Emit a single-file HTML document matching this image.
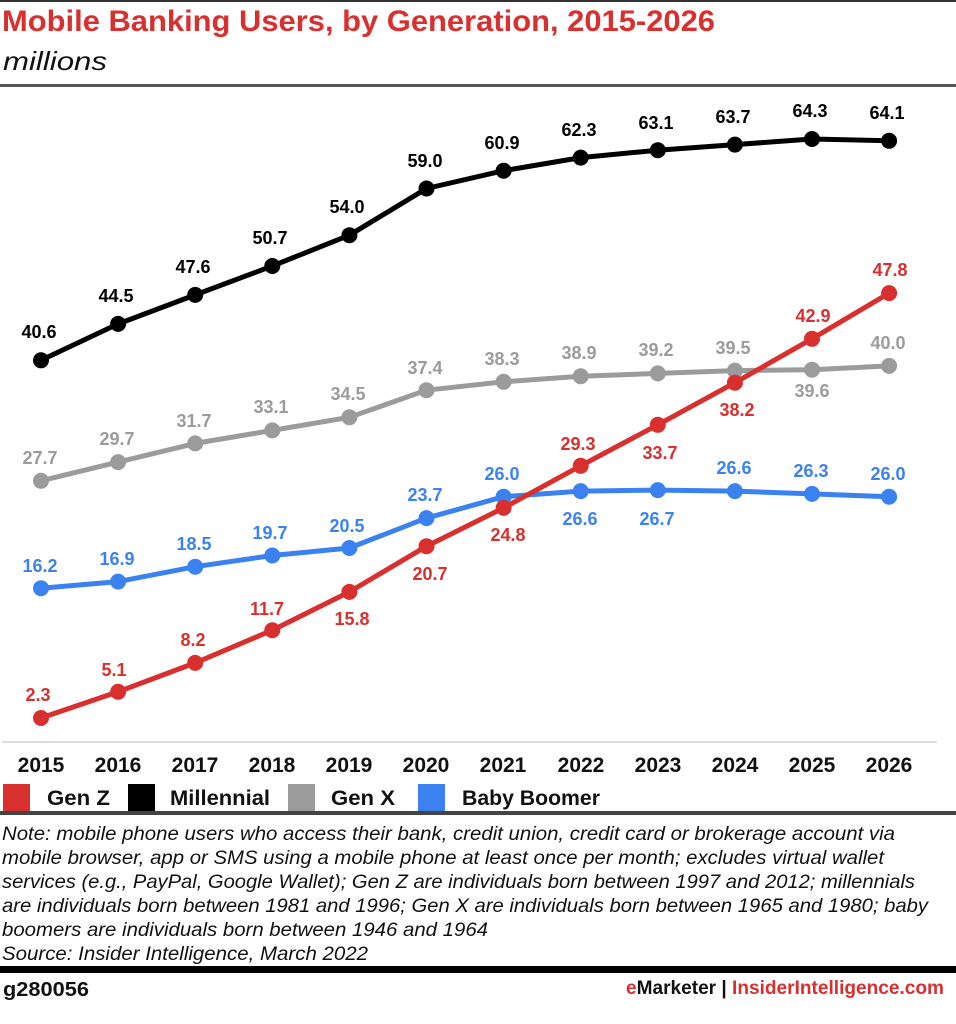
<!DOCTYPE html>
<html><head><meta charset="utf-8"><style>
body{margin:0;background:#fff;}
svg{display:block;}
text{font-family:"Liberation Sans",sans-serif;}
.n{font-family:"Liberation Sans Narrow","Liberation Sans",sans-serif;}
.l{font-size:18px;font-weight:bold;text-anchor:middle;}
</style></head><body>
<svg width="956" height="1024" viewBox="0 0 956 1024" xmlns="http://www.w3.org/2000/svg">
<rect x="0" y="0" width="956" height="2" fill="#333"/>
<text x="2" y="31" class="n" font-size="30" font-weight="bold" fill="#d8302f" textLength="713" lengthAdjust="spacingAndGlyphs">Mobile Banking Users, by Generation, 2015-2026</text>
<text x="3" y="70" class="n" font-size="26" font-style="italic" fill="#111" textLength="104" lengthAdjust="spacingAndGlyphs">millions</text>
<rect x="0" y="84" width="956" height="3" fill="#555"/>
<line x1="2" y1="742" x2="937" y2="742" stroke="#ddd" stroke-width="2"/>
<g fill="none" stroke-width="5" stroke-linejoin="round">
<polyline stroke="#000" points="41,360.3 118.1,323.9 195.2,294.9 272.3,266 349.4,235.2 426.5,188.5 503.6,170.7 580.7,157.6 657.8,150.2 734.9,144.6 812,139 889.1,140.8"/>
<polyline stroke="#9b9b9b" points="41,480.8 118.1,462.1 195.2,443.4 272.3,430.4 349.4,417.3 426.5,390.2 503.6,381.8 580.7,376.2 657.8,373.4 734.9,370.6 812,369.7 889.1,365.9"/>
<polyline stroke="#3b82f0" points="41,588.2 118.1,581.6 195.2,566.7 272.3,555.5 349.4,548 426.5,518.1 503.6,496.7 580.7,491.1 657.8,490.1 734.9,491.1 812,493.9 889.1,496.7"/>
<polyline stroke="#d8302f" points="41,718 118.1,691.8 195.2,662.9 272.3,630.2 349.4,591.9 426.5,546.2 503.6,507.9 580.7,465.8 657.8,424.8 734.9,382.7 812,338.8 889.1,293.1"/>
</g>
<g fill="#000">
<circle cx="41" cy="360.3" r="8"/><circle cx="118.1" cy="323.9" r="8"/><circle cx="195.2" cy="294.9" r="8"/><circle cx="272.3" cy="266" r="8"/><circle cx="349.4" cy="235.2" r="8"/><circle cx="426.5" cy="188.5" r="8"/><circle cx="503.6" cy="170.7" r="8"/><circle cx="580.7" cy="157.6" r="8"/><circle cx="657.8" cy="150.2" r="8"/><circle cx="734.9" cy="144.6" r="8"/><circle cx="812" cy="139" r="8"/><circle cx="889.1" cy="140.8" r="8"/>
</g>
<g fill="#9b9b9b">
<circle cx="41" cy="480.8" r="8"/><circle cx="118.1" cy="462.1" r="8"/><circle cx="195.2" cy="443.4" r="8"/><circle cx="272.3" cy="430.4" r="8"/><circle cx="349.4" cy="417.3" r="8"/><circle cx="426.5" cy="390.2" r="8"/><circle cx="503.6" cy="381.8" r="8"/><circle cx="580.7" cy="376.2" r="8"/><circle cx="657.8" cy="373.4" r="8"/><circle cx="734.9" cy="370.6" r="8"/><circle cx="812" cy="369.7" r="8"/><circle cx="889.1" cy="365.9" r="8"/>
</g>
<g fill="#3b82f0">
<circle cx="41" cy="588.2" r="8"/><circle cx="118.1" cy="581.6" r="8"/><circle cx="195.2" cy="566.7" r="8"/><circle cx="272.3" cy="555.5" r="8"/><circle cx="349.4" cy="548" r="8"/><circle cx="426.5" cy="518.1" r="8"/><circle cx="503.6" cy="496.7" r="8"/><circle cx="580.7" cy="491.1" r="8"/><circle cx="657.8" cy="490.1" r="8"/><circle cx="734.9" cy="491.1" r="8"/><circle cx="812" cy="493.9" r="8"/><circle cx="889.1" cy="496.7" r="8"/>
</g>
<g fill="#d8302f">
<circle cx="41" cy="718" r="8"/><circle cx="118.1" cy="691.8" r="8"/><circle cx="195.2" cy="662.9" r="8"/><circle cx="272.3" cy="630.2" r="8"/><circle cx="349.4" cy="591.9" r="8"/><circle cx="426.5" cy="546.2" r="8"/><circle cx="503.6" cy="507.9" r="8"/><circle cx="580.7" cy="465.8" r="8"/><circle cx="657.8" cy="424.8" r="8"/><circle cx="734.9" cy="382.7" r="8"/><circle cx="812" cy="338.8" r="8"/><circle cx="889.1" cy="293.1" r="8"/>
</g>
<g class="l" fill="#000">
<text x="39" y="338">40.6</text><text x="116" y="302">44.5</text><text x="193" y="273">47.6</text><text x="270" y="244">50.7</text><text x="347" y="213">54.0</text><text x="425" y="167">59.0</text><text x="502" y="149">60.9</text><text x="579" y="136">62.3</text><text x="656" y="129">63.1</text><text x="733" y="123">63.7</text><text x="810" y="117">64.3</text><text x="887" y="119">64.1</text>
</g>
<g class="l" fill="#9b9b9b">
<text x="40" y="464">27.7</text><text x="117" y="445">29.7</text><text x="194" y="427">31.7</text><text x="271" y="413">33.1</text><text x="348" y="400">34.5</text><text x="425" y="374">37.4</text><text x="502" y="365">38.3</text><text x="579" y="359">38.9</text><text x="656" y="356">39.2</text><text x="733" y="354">39.5</text><text x="812" y="397">39.6</text><text x="888" y="349">40.0</text>
</g>
<g class="l" fill="#3b82f0">
<text x="40" y="572">16.2</text><text x="117" y="565">16.9</text><text x="194" y="550">18.5</text><text x="270" y="539">19.7</text><text x="347" y="532">20.5</text><text x="425" y="501">23.7</text><text x="502" y="480">26.0</text><text x="580" y="525">26.6</text><text x="657" y="525">26.7</text><text x="734" y="474">26.6</text><text x="811" y="477">26.3</text><text x="888" y="480">26.0</text>
</g>
<g class="l" fill="#d8302f">
<text x="38" y="701">2.3</text><text x="114" y="676">5.1</text><text x="193" y="646">8.2</text><text x="267" y="615">11.7</text><text x="352" y="625">15.8</text><text x="430" y="580">20.7</text><text x="508" y="541">24.8</text><text x="578" y="450">29.3</text><text x="660" y="459">33.7</text><text x="737" y="416">38.2</text><text x="813" y="322">42.9</text><text x="890" y="276">47.8</text>
</g>
<g font-size="21" font-weight="bold" fill="#111" text-anchor="middle" class="n">
<text x="41" y="772">2015</text><text x="118" y="772">2016</text><text x="195" y="772">2017</text><text x="272" y="772">2018</text><text x="349" y="772">2019</text><text x="426" y="772">2020</text><text x="503" y="772">2021</text><text x="581" y="772">2022</text><text x="658" y="772">2023</text><text x="735" y="772">2024</text><text x="812" y="772">2025</text><text x="889" y="772">2026</text>
</g>
<rect x="3" y="784" width="27" height="27" fill="#d8302f"/>
<rect x="128" y="784" width="27" height="27" fill="#000"/>
<rect x="288" y="784" width="27" height="27" fill="#9b9b9b"/>
<rect x="418" y="784" width="27" height="27" fill="#3b82f0"/>
<g font-size="21" font-weight="bold" fill="#111" class="n">
<text x="47" y="805" textLength="63" lengthAdjust="spacingAndGlyphs">Gen Z</text><text x="170" y="805" textLength="100" lengthAdjust="spacingAndGlyphs">Millennial</text><text x="331" y="805" textLength="64" lengthAdjust="spacingAndGlyphs">Gen X</text><text x="462" y="805" textLength="138" lengthAdjust="spacingAndGlyphs">Baby Boomer</text>
</g>
<rect x="0" y="811" width="956" height="4" fill="#444"/>
<g font-size="19" font-style="italic" fill="#111" class="n">
<text x="2" y="840" textLength="893" lengthAdjust="spacingAndGlyphs">Note: mobile phone users who access their bank, credit union, credit card or brokerage account via</text>
<text x="2" y="864" textLength="882" lengthAdjust="spacingAndGlyphs">mobile browser, app or SMS using a mobile phone at least once per month; excludes virtual wallet</text>
<text x="2" y="888" textLength="913" lengthAdjust="spacingAndGlyphs">services (e.g., PayPal, Google Wallet); Gen Z are individuals born between 1997 and 2012; millennials</text>
<text x="2" y="912" textLength="926" lengthAdjust="spacingAndGlyphs">are individuals born between 1981 and 1996; Gen X are individuals born between 1965 and 1980; baby</text>
<text x="2" y="936" textLength="486" lengthAdjust="spacingAndGlyphs">boomers are individuals born between 1946 and 1964</text>
<text x="2" y="960" textLength="366" lengthAdjust="spacingAndGlyphs">Source: Insider Intelligence, March 2022</text>
</g>
<rect x="0" y="966" width="956" height="7" fill="#000"/>
<text x="3" y="996" class="n" font-size="20" font-weight="bold" fill="#111" textLength="86" lengthAdjust="spacingAndGlyphs">g280056</text>
<text x="626" y="994" class="n" font-size="19" font-weight="bold" fill="#111" textLength="318" lengthAdjust="spacingAndGlyphs"><tspan fill="#d8302f">e</tspan>Marketer | <tspan fill="#d8302f">InsiderIntelligence.com</tspan></text>
</svg>
</body></html>
